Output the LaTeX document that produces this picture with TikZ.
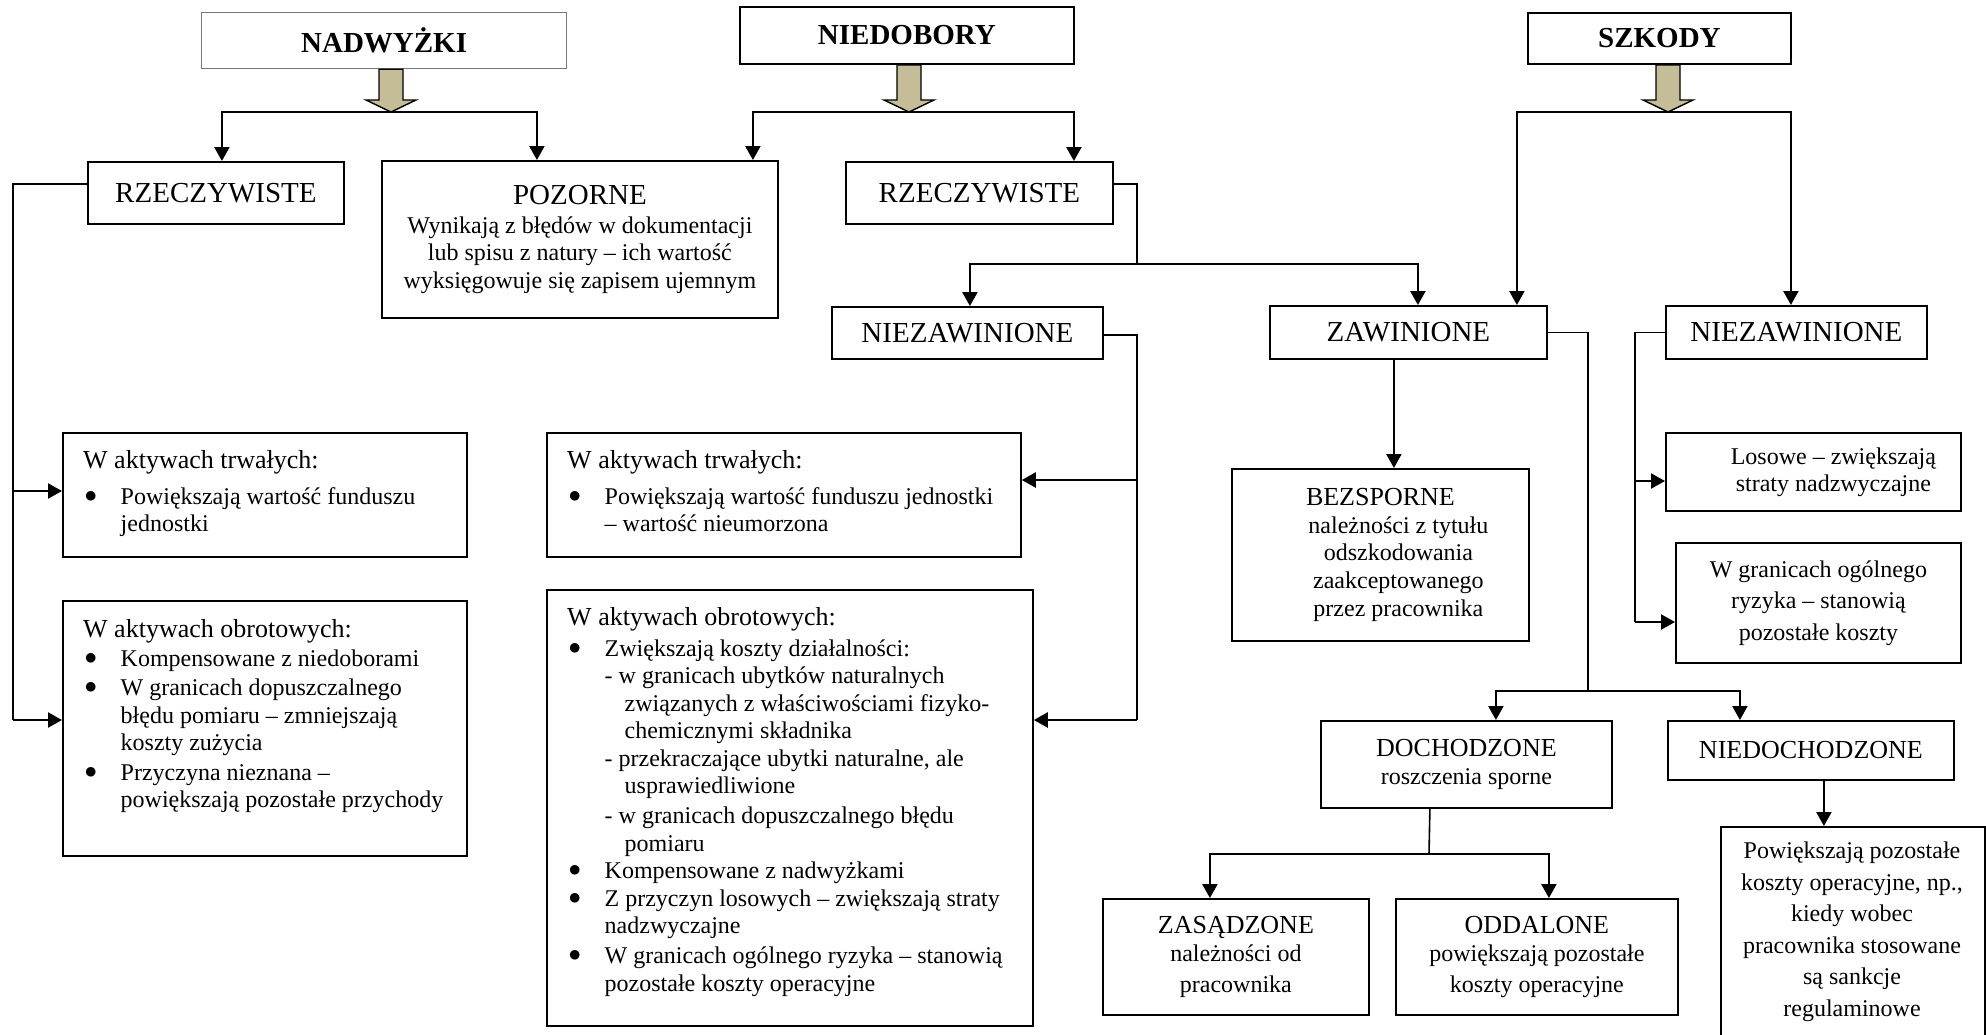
\documentclass[tikz,border=0pt]{standalone}
\usepackage{fontspec}
\setmainfont{Liberation Serif}
\usetikzlibrary{arrows.meta,calc}
\definecolor{khaki}{RGB}{196,189,151}
\definecolor{framegray}{RGB}{120,120,120}
\newcommand{\bigtxt}{\fontsize{29}{31}\selectfont}
\newcommand{\midtxt}{\fontsize{26}{28}\selectfont}
\newcommand{\bulitem}{\makebox[37.5pt][l]{\hspace{1.5pt}\raisebox{2pt}{$\bullet$}}}
\newcommand{\bulcont}{\hspace*{37.5pt}}

\begin{document}
\begin{tikzpicture}[x=1pt, y=-1pt,
    box/.style={draw=black, line width=1.8pt, inner sep=0pt, anchor=north west, align=center, font=\bigtxt},
    head/.style={box, font=\bfseries\bigtxt},
    list/.style={inner sep=0pt, anchor=north west, align=left, font=\fontsize{24}{27.5}\selectfont},
    line/.style={line width=1.6pt},
    arr/.style={line width=2.3pt, -{Triangle[width=15pt,length=14pt]}},
    fat/.style={draw=black, line width=1.4pt, fill=khaki}]
  \useasboundingbox (0,0) rectangle (1986,1034);
  \fill[white] (0,0) rectangle (1986,1034);

  % headers
  \node[head, draw=framegray, line width=1.2pt, minimum width=365pt, minimum height=56pt] (nad) at (201,12) {NADWYŻKI};
  \node[head, minimum width=334pt, minimum height=57pt] (nied) at (739,6) {NIEDOBORY};
  \node[head, minimum width=263pt, minimum height=51pt] (szk) at (1527,12) {SZKODY};

  % second level
  \node[box, minimum width=256pt, minimum height=62pt] (rz1) at (87,161) {RZECZYWISTE};
  \node[box, minimum width=396pt, minimum height=157pt, font=\fontsize{24}{27.5}\selectfont] (poz) at (381,160)
    {{\bigtxt POZORNE}\\[1.5pt] Wynikają z błędów w dokumentacji\\ lub spisu z natury – ich wartość\\ wyksięgowuje się zapisem ujemnym};
  \node[box, minimum width=267pt, minimum height=62pt] (rz2) at (845,161) {RZECZYWISTE};
  \node[box, minimum width=271pt, minimum height=52pt] (niez1) at (831,306) {NIEZAWINIONE};
  \node[box, minimum width=277pt, minimum height=53pt] (zaw) at (1269,305) {ZAWINIONE};
  \node[box, minimum width=261pt, minimum height=53pt] (niez2) at (1665,305) {NIEZAWINIONE};

  % nadwyzki rzeczywiste
  \node[box, minimum width=404pt, minimum height=124pt] (trw1) at (62,432) {};
  \node[list] (trw1-t) at (83,450) {{\midtxt W aktywach trwałych:}\\[8.5pt]
    \bulitem Powiększają wartość funduszu\\ \bulcont jednostki};
  \node[box, minimum width=404pt, minimum height=255pt] (obr1) at (62,600) {};
  \node[list] (obr1-t) at (83,619) {{\midtxt W aktywach obrotowych:}\\[1.5pt]
    \bulitem Kompensowane z niedoborami\\[2pt]
    \bulitem W granicach dopuszczalnego\\
    \bulcont błędu pomiaru – zmniejszają\\
    \bulcont koszty zużycia\\[2pt]
    \bulitem Przyczyna nieznana –\\
    \bulcont powiększają pozostałe przychody};

  % niedobory niezawinione
  \node[box, minimum width=474pt, minimum height=124pt] (trw2) at (546,432) {};
  \node[list] (trw2-t) at (567,450) {{\midtxt W aktywach trwałych:}\\[8.5pt]
    \bulitem Powiększają wartość funduszu jednostki\\ \bulcont – wartość nieumorzona};
  \node[box, minimum width=486pt, minimum height=436pt] (obr2) at (546,589) {};
  \node[list] (obr2-t) at (567,607) {{\midtxt W aktywach obrotowych:}\\[3.5pt]
    \bulitem Zwiększają koszty działalności:\\
    \bulcont - w granicach ubytków naturalnych\\
    \bulcont\hspace*{20pt}związanych z właściwościami fizyko-\\
    \bulcont\hspace*{20pt}chemicznymi składnika\\
    \bulcont - przekraczające ubytki naturalne, ale\\
    \bulcont\hspace*{20pt}usprawiedliwione\\[2.5pt]
    \bulcont - w granicach dopuszczalnego błędu\\
    \bulcont\hspace*{20pt}pomiaru\\
    \bulitem Kompensowane z nadwyżkami\\
    \bulitem Z przyczyn losowych – zwiększają straty\\
    \bulcont nadzwyczajne\\[2.5pt]
    \bulitem W granicach ogólnego ryzyka – stanowią\\
    \bulcont pozostałe koszty operacyjne};

  % szkody
  \node[box, minimum width=297pt, minimum height=172pt, font=\fontsize{24}{27.7}\selectfont] (bez) at (1231,468)
    {{\midtxt BEZSPORNE}\\ \hspace*{36pt}należności z tytułu\\ \hspace*{36pt}odszkodowania\\
     \hspace*{36pt}zaakceptowanego\\ \hspace*{36pt}przez pracownika};
  \node[box, minimum width=295pt, minimum height=78pt, font=\fontsize{24}{27}\selectfont] (los) at (1665,432)
    {\hspace*{40pt}Losowe – zwiększają\\ \hspace*{40pt}straty nadzwyczajne};
  \node[box, minimum width=285pt, minimum height=120pt, font=\fontsize{24}{31.5}\selectfont] (wgr) at (1675,542)
    {W granicach ogólnego\\ ryzyka – stanowią\\ pozostałe koszty};
  \node[box, minimum width=291pt, minimum height=87pt, font=\fontsize{24}{28}\selectfont] (doch) at (1320,720)
    {{\midtxt DOCHODZONE}\\ roszczenia sporne};
  \node[box, minimum width=286pt, minimum height=59pt, font=\midtxt] (niedoch) at (1667,720) {NIEDOCHODZONE};
  \node[box, minimum width=266pt, minimum height=116pt, font=\fontsize{24}{28}\selectfont] (zas) at (1102,898)
    {{\midtxt ZASĄDZONE}\\ należności od\\[3pt] pracownika};
  \node[box, minimum width=282pt, minimum height=116pt, font=\fontsize{24}{28}\selectfont] (odd) at (1395,898)
    {{\midtxt ODDALONE}\\ powiększają pozostałe\\[3pt] koszty operacyjne};
  \node[box, minimum width=264pt, minimum height=234pt] (fin) at (1720,826) {};
  \node[inner sep=0pt, anchor=north, align=center, font=\fontsize{24}{31.6}\selectfont] (fin-t) at (1852,841.6)
    {Powiększają pozostałe\\ koszty operacyjne, np.,\\ kiedy wobec\\ pracownika stosowane\\ są sankcje\\ regulaminowe};

  % wide arrows under the headers
  \coordinate (nad-t) at (391,112);
  \coordinate (nied-t) at (909,112);
  \coordinate (szk-t) at (1668,112);
  \foreach \s in {nad,nied,szk}
    \filldraw[fat] ($(\s.south -| \s-t)+(-12,0)$) |- ($(\s-t)+(-25,-12)$) -- (\s-t)
      -- ($(\s-t)+(25,-12)$) -| ($(\s.south -| \s-t)+(12,0)$) -- cycle;

  \draw[arr] (nad-t) -| ([xshift=6pt]rz1.north);
  \draw[arr] (nad-t) -| ([xshift=-43pt]poz.north);
  \draw[arr] (nied-t) -| ([xshift=173pt]poz.north);
  \draw[arr] (nied-t) -| ([xshift=94.5pt]rz2.north);
  \draw[arr] (szk-t) -| ([xshift=108.5pt]zaw.north);
  \draw[arr] (szk-t) -| ([xshift=-5.5pt]niez2.north);

  % left bus
  \coordinate (l1) at (13,491);
  \coordinate (l2) at (13,720);
  \draw[line] ([yshift=9pt]rz1.west) -| (l2);
  \draw[arr] (l1) -- (l1 -| trw1.west);
  \draw[arr] (l2) -- (l2 -| obr1.west);

  % niedobory rzeczywiste
  \coordinate (r1) at (1137,264);
  \draw[line] ([yshift=9pt]rz2.east) -| (r1);
  \draw[arr] (r1) -| ([xshift=2.5pt]niez1.north);
  \draw[arr] (r1) -| ([xshift=9.5pt]zaw.north);

  \coordinate (n1) at (1137,480);
  \coordinate (n2) at (1137,720);
  \draw[line] ([yshift=-2pt]niez1.east) -| (n2);
  \draw[arr] (n1) -- (n1 -| trw2.east);
  \draw[arr] (n2) -- (n2 -| obr2.east);

  % zawinione
  \coordinate (z1) at ([xshift=-14.5pt]zaw.south);
  \draw[arr] (z1) -- (z1 |- bez.north);
  \coordinate (z2) at (1588,691);
  \draw[line] (zaw.east) -| (z2);
  \draw[arr] (z2) -| ([xshift=29.5pt]doch.north);
  \draw[arr] (z2) -| ([xshift=-71pt]niedoch.north);

  \coordinate (s1) at (1635,481);
  \coordinate (s2) at (1635,622);
  \draw[line] (niez2.west) -| (s2);
  \draw[arr] (s1) -- (s1 -| los.west);
  \draw[arr] (s2) -- (s2 -| wgr.west);

  \coordinate (d0) at ([xshift=-36.5pt]doch.south);
  \coordinate (d1) at (1429,854);
  \draw[line] (d0) -- (d1);
  \draw[arr] (d1) -| ([xshift=-26pt]zas.north);
  \draw[arr] (d1) -| ([xshift=12pt]odd.north);

  \coordinate (nd) at ([xshift=13pt]niedoch.south);
  \draw[arr] (nd) -- (nd |- fin.north);
\end{tikzpicture}
\end{document}
